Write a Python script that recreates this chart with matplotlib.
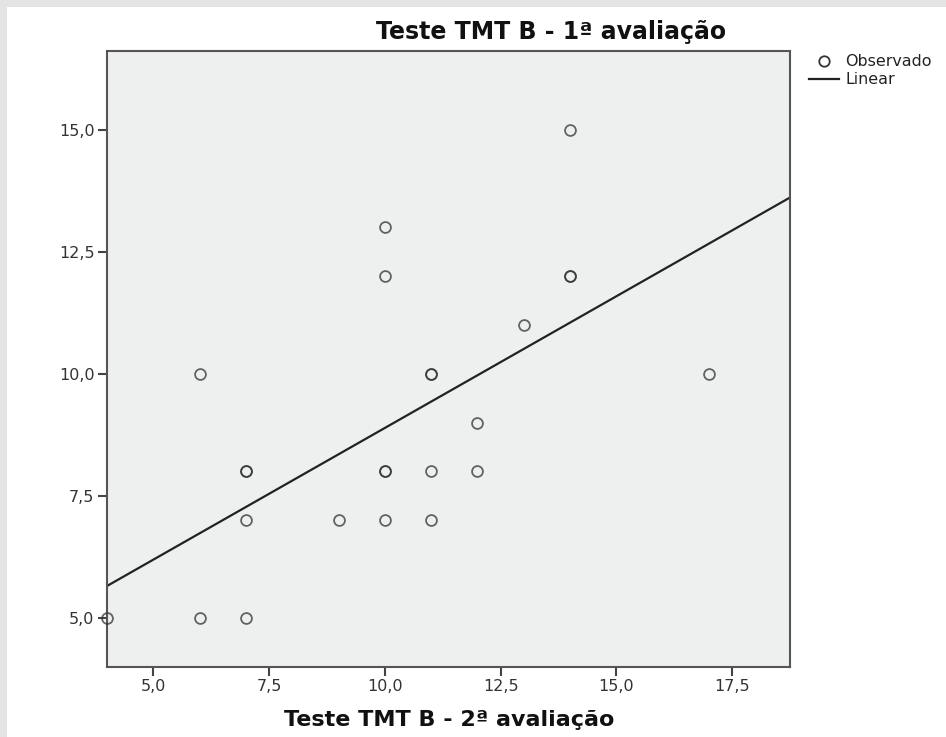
import numpy as np
import matplotlib
matplotlib.use("Agg")
import matplotlib.pyplot as plt
from matplotlib.patches import Rectangle
from matplotlib.lines import Line2D

# Data (x = 2ª avaliação, y = 1ª avaliação)
x_vals = [4, 6, 7, 6, 7, 7, 7, 9, 10, 10, 10, 10, 10, 11, 11, 11, 11, 12, 12, 13, 14, 14, 14, 17]
y_vals = [5, 5, 5, 10, 8, 8, 7, 7, 13, 12, 8, 8, 7, 10, 10, 8, 7, 9, 8, 11, 15, 12, 12, 10]
x_ticks = [5.0, 7.5, 10.0, 12.5, 15.0, 17.5]
y_ticks = [5.0, 7.5, 10.0, 12.5, 15.0]
title = "Teste TMT B - 1ª avaliação"
xlabel = "Teste TMT B - 2ª avaliação"

W, H = 946, 737
fig = plt.figure(figsize=(W / 100, H / 100), dpi=100)
fig.patch.set_facecolor("#e4e4e4")
fig.patches.append(Rectangle((7 / W, 0), 1 - 7 / W, 1 - 7 / H, transform=fig.transFigure,
                             facecolor="white", edgecolor="none", zorder=-5))

fam = ["DejaVu Sans"]

ax = fig.add_axes([107 / W, 1 - 666.7 / H, (790 - 107) / W, (666.7 - 50.7) / H])
ax.set_zorder(2)
ax.set_facecolor("#eef0ef")
ax.set_xlim(4.0, 18.75)
ax.set_ylim(4.0, 16.62)

x = np.array(x_vals, dtype=float)
y = np.array(y_vals, dtype=float)
ax.plot(x, y, linestyle="none", marker="o", markersize=7.8, markerfacecolor="none",
        markeredgecolor=(0.2, 0.2, 0.2, 0.75), markeredgewidth=1.3, clip_on=False, zorder=3)

slope, intercept = np.polyfit(x, y, 1)
xl = np.array(ax.get_xlim())
ax.plot(xl, intercept + slope * xl, color="#222222", linewidth=1.6, zorder=2)

for s in ax.spines.values():
    s.set_color("#555555")
    s.set_linewidth(1.5)

ax.set_xticks(x_ticks)
ax.set_yticks(y_ticks)
fmt = lambda v: f"{v:.1f}".replace(".", ",")
ax.set_xticklabels([fmt(v) for v in x_ticks], family=fam, fontsize=11.5, color="#333333")
ax.set_yticklabels([fmt(v) for v in y_ticks], family=fam, fontsize=11.5, color="#333333")
ax.tick_params(axis="both", direction="out", length=6.5, width=1.5, color="#444444", pad=2.5)

fig.text(551 / W, 1 - 38.5 / H, title, ha="center", va="baseline", family=fam,
         fontsize=17, fontweight="bold", color="#111111")
fig.text(449 / W, 1 - 726 / H, xlabel, ha="center", va="baseline", family=fam,
         fontsize=16, fontweight="bold", color="#111111")

# Legend drawn manually outside the axes
fig.add_artist(Line2D([824 / W], [1 - 61 / H], marker="o", markersize=7.5, markerfacecolor="none",
                      markeredgecolor="#333333", markeredgewidth=1.3, linestyle="none",
                      transform=fig.transFigure))
fig.add_artist(Line2D([809 / W, 839 / W], [1 - 79 / H, 1 - 79 / H], color="#222222",
                      linewidth=1.6, transform=fig.transFigure))
fig.text(845 / W, 1 - 62 / H, "Observado", ha="left", va="center", family=fam,
         fontsize=11.4, color="#222222")
fig.text(845 / W, 1 - 80 / H, "Linear", ha="left", va="center", family=fam,
         fontsize=11.4, color="#222222")

fig.savefig("out.png", dpi=100, facecolor=fig.get_facecolor())
